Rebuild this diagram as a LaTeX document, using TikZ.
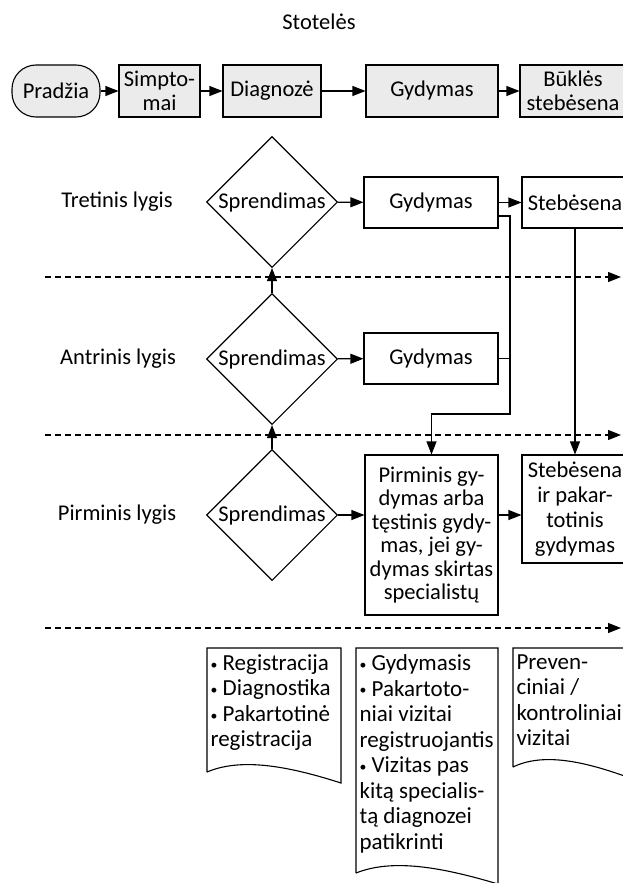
\documentclass[tikz,border=0pt]{standalone}
\usepackage{fontspec}
\setmainfont{Carlito}
\usetikzlibrary{arrows.meta,positioning,shapes.geometric,calc}
\definecolor{stagegray}{RGB}{235,235,235}
\newcommand{\bul}{\raisebox{0.12ex}{\scalebox{0.6}{•}}}

\begin{document}
\begin{tikzpicture}[
    x=1pt, y=-1pt,
    line width=1.1pt,
    every node/.style={font=\fontsize{22.5}{23.5}\selectfont},
    stage/.style={
        rectangle,
        draw=black,
        fill=stagegray,
        minimum height=52pt,
        inner sep=1pt,
        align=center
    },
    startbox/.style={
        stage,
        rounded corners=24pt
    },
    decision/.style={
        diamond,
        draw=black,
        minimum width=131pt,
        minimum height=131pt,
        inner sep=0pt
    },
    task/.style={
        rectangle,
        draw=black,
        minimum height=51pt,
        inner sep=1pt,
        align=center
    },
    level/.style={
        align=center
    },
    doctext/.style={
        anchor=north west,
        inner sep=0pt,
        align=left,
        font=\fontsize{23}{25.5}\selectfont
    },
    arr/.style={
        -{Triangle[length=13pt,width=10pt]}
    },
    sep/.style={
        dash pattern=on 6pt off 4pt,
        -{Triangle[length=13pt,width=10pt]}
    }
]
\useasboundingbox (0,0) rectangle (622,883);

% Title
\node (title) at (319,22) {Stotelės};

% Stages
\node[startbox, minimum width=88pt] (start) at (56,91) {Pradžia};
\node[stage, minimum width=81pt] (symp) at (159.5,91) {Simpto-\\mai};
\node[stage, minimum width=98pt] (diag) at (272,91) {Diagnozė};
\node[stage, minimum width=132pt] (treat) at (432,91) {Gydymas};
\node[stage, minimum width=106pt] (state) at (573,91) {Būklės\\stebėsena};

% Level labels
\node[level] (lvl3) at (117,202) {Tretinis lygis};
\node[level] (lvl2) at (118,359) {Antrinis lygis};
\node[level] (lvl1) at (117,515) {Pirminis lygis};

% Tertiary level
\node[decision] (dec3) at (272,202) {Sprendimas};
\node[task, minimum width=134pt] (treat3) at (431,202.5) {Gydymas};
\node[task, minimum width=106pt] (watch3) at (575,202.5) {Stebėsena};

% Secondary level
\node[decision] (dec2) at (272,359) {Sprendimas};
\node[task, minimum width=134pt] (treat2) at (431,358.5) {Gydymas};

% Primary level
\node[decision] (dec1) at (272,515) {Sprendimas};
\node[task, minimum width=133pt, minimum height=160pt] (prim) at (431.5,535)
    {Pirminis gy-\\dymas arba\\tęstinis gydy-\\mas, jei gy-\\dymas skirtas\\specialistų};
\node[task, minimum width=106pt, minimum height=108pt, font=\fontsize{22.5}{25}\selectfont] (watch1) at (575,509)
    {Stebėsena\\ir pakar-\\totinis\\gydymas};

% Arrows
\draw[arr] (start) -- (symp);
\draw[arr] (symp) -- (diag);
\draw[arr] (diag) -- (treat);
\draw[arr] (treat) -- (state);
\draw[arr] (dec3) -- (treat3);
\draw[arr] (treat3) -- (watch3);
\draw[arr] (dec2) -- (treat2);
\draw[arr] (dec1) -- (dec1 -| prim.west);
\draw[arr] (prim.east |- dec1) -- (watch1.west |- dec1);
\draw[arr] (dec1) -- (dec2);
\draw[arr] (dec2) -- (dec3);
\draw[arr] (watch3) -- (watch1);

% Referral line
\coordinate (bus) at (510,414);
\draw[arr] ([yshift=-13.5pt]treat3.east) -| (bus) -| (prim.north);
\draw (treat2) -- (treat2 -| bus);

% Level separators
\foreach \y in {277,435,628}
    \draw[sep] (45,\y) -- (621,\y);

% Documents
\draw (207,772) -- (207,648) -- (341,648) -- (341,783)
    .. controls (285,765) and (240,758) .. (207,772);
\node[doctext] (doc1) at (210,654) {\bul{} Registracija\\\bul{} Diagnostika\\\bul{} Pakartotinė\\registracija};

\draw (356,873) -- (356,648) -- (498,648) -- (498,884)
    .. controls (438,866) and (391,859) .. (356,873);
\node[doctext] (doc2) at (359,654) {\bul{} Gydymasis\\\bul{} Pakartoto-\\niai vizitai\\registruojantis\\\bul{} Vizitas pas\\kitą specialis-\\tą diagnozei\\patikrinti};

\draw (513,767) -- (513,648) -- (630,648) -- (630,778)
    .. controls (581,760) and (542,753) .. (513,767);
\node[doctext] (doc3) at (516,654) {Preven-\\ciniai /\\kontroliniai\\vizitai};

\end{tikzpicture}
\end{document}
